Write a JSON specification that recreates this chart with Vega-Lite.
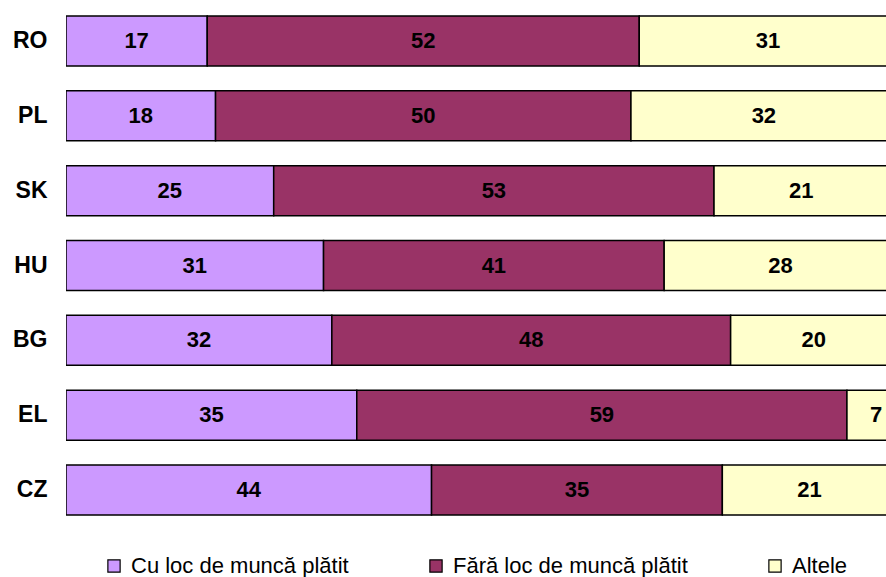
{
  "$schema": "https://vega.github.io/schema/vega-lite/v6.json",
  "width": 820,
  "height": 523,
  "autosize": {"type": "none"},
  "padding": {"left": 66, "top": 4, "right": 0, "bottom": 50},
  "background": "white",
  "config": {"view": {"stroke": null}, "font": "Liberation Sans"},
  "data": {
    "values": [
      {"country": "RO", "cat": "Cu loc de muncă plătit", "ord": 1, "value": 17},
      {"country": "RO", "cat": "Fără loc de muncă plătit", "ord": 2, "value": 52},
      {"country": "RO", "cat": "Altele", "ord": 3, "value": 31},
      {"country": "PL", "cat": "Cu loc de muncă plătit", "ord": 1, "value": 18},
      {"country": "PL", "cat": "Fără loc de muncă plătit", "ord": 2, "value": 50},
      {"country": "PL", "cat": "Altele", "ord": 3, "value": 32},
      {"country": "SK", "cat": "Cu loc de muncă plătit", "ord": 1, "value": 25},
      {"country": "SK", "cat": "Fără loc de muncă plătit", "ord": 2, "value": 53},
      {"country": "SK", "cat": "Altele", "ord": 3, "value": 21},
      {"country": "HU", "cat": "Cu loc de muncă plătit", "ord": 1, "value": 31},
      {"country": "HU", "cat": "Fără loc de muncă plătit", "ord": 2, "value": 41},
      {"country": "HU", "cat": "Altele", "ord": 3, "value": 28},
      {"country": "BG", "cat": "Cu loc de muncă plătit", "ord": 1, "value": 32},
      {"country": "BG", "cat": "Fără loc de muncă plătit", "ord": 2, "value": 48},
      {"country": "BG", "cat": "Altele", "ord": 3, "value": 20},
      {"country": "EL", "cat": "Cu loc de muncă plătit", "ord": 1, "value": 35},
      {"country": "EL", "cat": "Fără loc de muncă plătit", "ord": 2, "value": 59},
      {"country": "EL", "cat": "Altele", "ord": 3, "value": 7},
      {"country": "CZ", "cat": "Cu loc de muncă plătit", "ord": 1, "value": 44},
      {"country": "CZ", "cat": "Fără loc de muncă plătit", "ord": 2, "value": 35},
      {"country": "CZ", "cat": "Altele", "ord": 3, "value": 21}
    ]
  },
  "encoding": {
    "y": {
      "field": "country",
      "type": "nominal",
      "sort": ["RO", "PL", "SK", "HU", "BG", "EL", "CZ"],
      "scale": {"paddingInner": 0.331, "paddingOuter": 0.16},
      "axis": {
        "title": null,
        "domain": false,
        "ticks": false,
        "labelFont": "Liberation Sans",
        "labelFontWeight": "bold",
        "labelFontSize": 23,
        "labelColor": "black",
        "labelPadding": 19
      }
    },
    "x": {
      "field": "value",
      "type": "quantitative",
      "stack": "zero",
      "scale": {"domain": [0, 98.7], "nice": false, "zero": true},
      "axis": null
    },
    "order": {"field": "ord", "type": "quantitative"}
  },
  "layer": [
    {
      "mark": {"type": "bar", "stroke": "black", "strokeWidth": 1.5, "clip": true},
      "encoding": {
        "color": {
          "field": "cat",
          "type": "nominal",
          "sort": ["Cu loc de muncă plătit", "Fără loc de muncă plătit", "Altele"],
          "scale": {
            "domain": ["Cu loc de muncă plătit", "Fără loc de muncă plătit", "Altele"],
            "range": ["#CC99FF", "#993366", "#FFFFCC"]
          },
          "legend": {
            "title": null,
            "orient": "none",
            "direction": "horizontal",
            "columns": 3,
            "legendX": 37,
            "legendY": 551,
            "symbolType": "square",
            "symbolSize": 150,
            "symbolStrokeColor": "black",
            "symbolStrokeWidth": 1.2,
            "symbolOpacity": 1,
            "labelFont": "Liberation Sans",
            "labelFontSize": 22,
            "labelColor": "black",
            "labelOffset": 6,
            "labelLimit": 400,
            "columnPadding": 76
          }
        }
      }
    },
    {
      "mark": {"type": "text", "position": "middle", "font": "Liberation Sans", "fontWeight": "bold", "fontSize": 22, "color": "black", "clip": true},
      "encoding": {
        "x": {"field": "value", "type": "quantitative", "stack": "zero", "bandPosition": 0.5},
        "text": {"field": "value", "type": "quantitative"}
      }
    }
  ]
}
